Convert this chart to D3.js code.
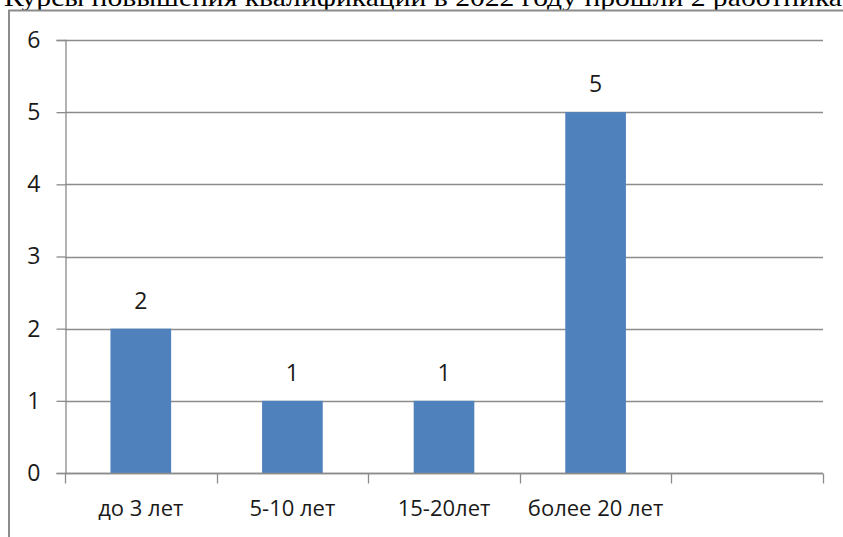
<!DOCTYPE html>
<html>
<head>
<meta charset="utf-8">
<script src="https://cdn.jsdelivr.net/npm/d3@7"></script>
<style>
  body { margin: 0; background: #fff; }
  svg { display: block; }
</style>
</head>
<body>
<div class="container"></div>
<script>
const width = 843;
const height = 537;

const title = 'Курсы повышения квалификации в 2022 году прошли 2 работника';
const categories = ['до 3 лет', '5-10 лет', '15-20лет', 'более 20 лет', ''];
const values = [2, 1, 1, 5, null];
const yTicks = [0, 1, 2, 3, 4, 5, 6];

const margin = { top: 40, right: 20, bottom: 64, left: 65 };
const labelFont = '"Open Sans", sans-serif';

const svg = d3.select('.container')
  .append('svg')
  .attr('width', width)
  .attr('height', height);

// heading line above the chart box, cut off by the top edge as in the source
svg.append('text')
  .attr('x', 4)
  .attr('y', 6)
  .attr('font-family', '"Liberation Serif", "Times New Roman", serif')
  .attr('font-size', 26)
  .attr('fill', '#000')
  .attr('textLength', 838)
  .attr('lengthAdjust', 'spacingAndGlyphs')
  .text(title);

// chart frame
svg.append('rect')
  .attr('x', 9)
  .attr('y', 10.5)
  .attr('width', 850)
  .attr('height', 550)
  .attr('fill', 'none')
  .attr('stroke', '#8c8c8c')
  .attr('stroke-width', 2);

const xScale = d3.scaleBand()
  .domain(categories.map((d, i) => i))
  .range([margin.left, width - margin.right])
  .paddingInner(0)
  .paddingOuter(0);

const yScale = d3.scaleLinear()
  .domain([0, 6])
  .range([height - margin.bottom, margin.top]);

const barWidth = xScale.bandwidth() / 2.5;

// gridlines
svg.append('g')
  .selectAll('line')
  .data(yTicks)
  .enter()
  .append('line')
  .attr('x1', margin.left)
  .attr('x2', width - margin.right)
  .attr('y1', d => Math.round(yScale(d)) + 0.5)
  .attr('y2', d => Math.round(yScale(d)) + 0.5)
  .attr('stroke', '#8c8c8c')
  .attr('stroke-width', 1.3);

// bars
svg.append('g')
  .selectAll('rect')
  .data(values.map((v, i) => ({ v, i })).filter(d => d.v != null))
  .enter()
  .append('rect')
  .attr('class', 'bar')
  .attr('x', d => xScale(d.i) + (xScale.bandwidth() - barWidth) / 2)
  .attr('y', d => yScale(d.v))
  .attr('width', barWidth)
  .attr('height', d => yScale(0) - yScale(d.v))
  .attr('fill', '#4f81bd');

// value labels
svg.append('g')
  .selectAll('text')
  .data(values.map((v, i) => ({ v, i })).filter(d => d.v != null))
  .enter()
  .append('text')
  .attr('x', d => xScale(d.i) + xScale.bandwidth() / 2)
  .attr('y', d => yScale(d.v) - 28)
  .attr('dy', '0.35em')
  .attr('text-anchor', 'middle')
  .attr('font-family', labelFont)
  .attr('font-size', 23)
  .attr('fill', '#1a1a1a')
  .text(d => d.v);

// y axis
const yAxis = svg.append('g')
  .attr('transform', `translate(${margin.left + 0.5},0)`)
  .call(d3.axisLeft(yScale).tickValues(yTicks).tickFormat(d3.format('d')).tickSize(9).tickPadding(16));

// x axis with ticks at category boundaries
const xAxis = svg.append('g')
  .attr('transform', `translate(0,${Math.round(yScale(0)) + 0.5})`);

xAxis.append('line')
  .attr('x1', margin.left)
  .attr('x2', width - margin.right)
  .attr('stroke', '#8c8c8c')
  .attr('stroke-width', 1.3);

xAxis.selectAll('line.tick')
  .data(d3.range(categories.length + 1))
  .enter()
  .append('line')
  .attr('class', 'tick')
  .attr('x1', i => Math.round(margin.left + i * xScale.bandwidth()) + 0.5)
  .attr('x2', i => Math.round(margin.left + i * xScale.bandwidth()) + 0.5)
  .attr('y1', 0)
  .attr('y2', 10)
  .attr('stroke', '#8c8c8c')
  .attr('stroke-width', 1.3);

xAxis.selectAll('text')
  .data(categories)
  .enter()
  .append('text')
  .attr('x', (d, i) => xScale(i) + xScale.bandwidth() / 2)
  .attr('y', 35)
  .attr('dy', '0.35em')
  .attr('text-anchor', 'middle')
  .attr('font-family', labelFont)
  .attr('font-size', 22)
  .attr('fill', '#1a1a1a')
  .text(d => d);

yAxis.select('.domain').attr('stroke', '#8c8c8c').attr('stroke-width', 1.3);
yAxis.selectAll('.tick line').attr('stroke', '#8c8c8c').attr('stroke-width', 1.3);
yAxis.selectAll('.tick text')
  .attr('font-family', labelFont)
  .attr('font-size', 23)
  .attr('fill', '#1a1a1a');
</script>
</body>
</html>
